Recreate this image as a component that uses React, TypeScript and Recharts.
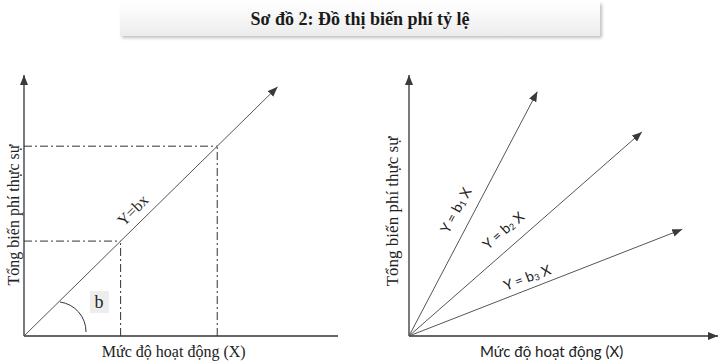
import React from "react";
import { LineChart, Line, XAxis, YAxis, ReferenceLine, ReferenceDot } from "recharts";

// ---- data ----
const TITLE = "Sơ đồ 2: Đồ thị biến phí tỷ lệ";
const Y_TITLE = "Tổng biến phí thực sự";
const X_TITLE = "Mức độ hoạt động (X)";

const X_MAX = 13;
const Y_MAX = 11;

// left chart: Y = bx (b = 1)
const leftLine = [
  { x: 0, y: 0 },
  { x: 10.5, y: 10.5 },
];
const guideLevels = [4, 8];
const leftXAxisLine = [
  { x: 0, y: 0 },
  { x: 13, y: 0 },
];
const yAxisLine = [
  { x: 0, y: 0 },
  { x: 0, y: 11 },
];
const leftLineLabel = "Y=bx";
const leftLineLabelPos = { x: 4.5, y: 5.3 };
const slopeLabel = "b";
const slopeLabelPos = { x: 3.1, y: 1.43 };
const leftXTitlePos = { x: 6.2, y: 0 };
const leftYTitlePos = { x: 0, y: 5.1 };

// right chart: Y = b1 X, Y = b2 X, Y = b3 X
const rightEndX = [5.4, 9.8, 11.5];
const rightEndY = [10.3, 8.6, 4.5];
const rightSubs = ["1", "2", "3"];
const rightLabelX = [1.94, 3.95, 4.96];
const rightLabelY = [5.31, 4.47, 2.49];
const rightXAxisLine = [
  { x: 0, y: 0 },
  { x: 13, y: 0 },
];
const rightXTitlePos = { x: 6.0, y: 0 };
const rightYTitlePos = { x: 0, y: 5.25 };

// ---- styles ----
const SERIF = "'Liberation Serif', 'Times New Roman', serif";
const SANS = "Lato, 'Open Sans', sans-serif";
const AXIS_COLOR = "#333";
const LINE_COLOR = "#555";
const labelAngles = [-62, -41.5, -21];

const Arrow = () => (
  <svg width={0} height={0} style={{ position: "absolute", left: 0, top: 0 }}>
    <defs>
      <marker
        id="arrowHead"
        viewBox="0 0 10 8"
        refX={10}
        refY={4}
        markerWidth={10}
        markerHeight={8}
        markerUnits="userSpaceOnUse"
        orient="auto"
      >
        <path d="M0,0 L10,4 L0,8 z" fill="#3a3a3a" />
      </marker>
    </defs>
  </svg>
);

const yTitleShape = (dx: number, size: number) => (p: any) => {
  const x = p.cx - dx;
  const y = p.cy;
  return (
    <text
      x={x}
      y={y}
      transform={`rotate(-90 ${x} ${y})`}
      textAnchor="middle"
      dominantBaseline="central"
      fontFamily={SERIF}
      fontSize={size}
      fill="#222"
    >
      {Y_TITLE}
    </text>
  );
};

const xTitleShape = (family: string, size: number) => (p: any) => (
  <text
    x={p.cx}
    y={p.cy + 15}
    textAnchor="middle"
    dominantBaseline="central"
    fontFamily={family}
    fontSize={size}
    fill="#222"
  >
    {X_TITLE}
  </text>
);

const LeftChart = () => (
  <LineChart
    width={360}
    height={362}
    margin={{ top: 75, right: 22, bottom: 26, left: 24 }}
  >
    <XAxis type="number" dataKey="x" domain={[0, X_MAX]} hide />
    <YAxis type="number" dataKey="y" domain={[0, Y_MAX]} hide />
    {guideLevels.map((v) => (
      <ReferenceLine
        key={"h" + v}
        segment={[
          { x: 0, y: v },
          { x: v, y: v },
        ]}
        stroke={AXIS_COLOR}
        strokeWidth={1}
        strokeDasharray="8 3 2 3"
      />
    ))}
    {guideLevels.map((v) => (
      <ReferenceLine
        key={"v" + v}
        segment={[
          { x: v, y: 0 },
          { x: v, y: v },
        ]}
        stroke={AXIS_COLOR}
        strokeWidth={1}
        strokeDasharray="8 3 2 3"
      />
    ))}
    <Line
      data={leftXAxisLine}
      dataKey="y"
      stroke={AXIS_COLOR}
      strokeWidth={1.3}
      dot={false}
      isAnimationActive={false}
    />
    <Line
      data={yAxisLine}
      dataKey="y"
      stroke={AXIS_COLOR}
      strokeWidth={1.3}
      dot={false}
      markerEnd="url(#arrowHead)"
      isAnimationActive={false}
    />
    <Line
      data={leftLine}
      dataKey="y"
      stroke={LINE_COLOR}
      strokeWidth={1}
      dot={false}
      markerEnd="url(#arrowHead)"
      isAnimationActive={false}
    />
    <ReferenceDot
      x={0}
      y={0}
      r={0}
      shape={(p: any) => (
        <path
          d={`M ${p.cx + 36} ${p.cy - 34} A 30 30 0 0 1 ${p.cx + 62} ${p.cy - 4}`}
          fill="none"
          stroke="#333"
          strokeWidth={1}
        />
      )}
    />
    <ReferenceDot
      x={slopeLabelPos.x}
      y={slopeLabelPos.y}
      r={0}
      shape={(p: any) => (
        <g>
          <rect x={p.cx - 9} y={p.cy - 11} width={19} height={22} fill="#ededed" />
          <text
            x={p.cx}
            y={p.cy}
            textAnchor="middle"
            dominantBaseline="central"
            fontFamily={SERIF}
            fontSize={18}
            fill="#222"
          >
            {slopeLabel}
          </text>
        </g>
      )}
    />
    <ReferenceDot
      x={leftLineLabelPos.x}
      y={leftLineLabelPos.y}
      r={0}
      shape={(p: any) => (
        <text
          x={p.cx}
          y={p.cy}
          transform={`rotate(-45 ${p.cx} ${p.cy})`}
          textAnchor="middle"
          dominantBaseline="central"
          fontFamily={SERIF}
          fontSize={16}
          fill="#222"
        >
          {leftLineLabel}
        </text>
      )}
    />
    <ReferenceDot
      x={leftXTitlePos.x}
      y={leftXTitlePos.y}
      r={0}
      shape={xTitleShape(SERIF, 16)}
    />
    <ReferenceDot
      x={leftYTitlePos.x}
      y={leftYTitlePos.y}
      r={0}
      shape={yTitleShape(10, 16)}
    />
  </LineChart>
);

const RightChart = () => (
  <LineChart
    width={360}
    height={362}
    margin={{ top: 75, right: 2, bottom: 26, left: 49 }}
  >
    <XAxis type="number" dataKey="x" domain={[0, X_MAX]} hide />
    <YAxis type="number" dataKey="y" domain={[0, Y_MAX]} hide />
    <Line
      data={rightXAxisLine}
      dataKey="y"
      stroke={AXIS_COLOR}
      strokeWidth={1.3}
      dot={false}
      markerEnd="url(#arrowHead)"
      isAnimationActive={false}
    />
    <Line
      data={yAxisLine}
      dataKey="y"
      stroke={AXIS_COLOR}
      strokeWidth={1.3}
      dot={false}
      markerEnd="url(#arrowHead)"
      isAnimationActive={false}
    />
    {rightEndX.map((ex, i) => (
      <Line
        key={"r" + i}
        data={[
          { x: 0, y: 0 },
          { x: ex, y: rightEndY[i] },
        ]}
        dataKey="y"
        stroke={LINE_COLOR}
        strokeWidth={1}
        dot={false}
        markerEnd="url(#arrowHead)"
        isAnimationActive={false}
      />
    ))}
    {rightSubs.map((s, i) => (
      <ReferenceDot
        key={"l" + i}
        x={rightLabelX[i]}
        y={rightLabelY[i]}
        r={0}
        shape={(p: any) => (
          <text
            x={p.cx}
            y={p.cy}
            transform={`rotate(${labelAngles[i]} ${p.cx} ${p.cy})`}
            textAnchor="middle"
            dominantBaseline="central"
            fontFamily={SANS}
            fontSize={14}
            fill="#222"
          >
            {"Y = b"}
            <tspan fontSize={9} dy={3}>
              {s}
            </tspan>
            <tspan dy={-3}>{" X"}</tspan>
          </text>
        )}
      />
    ))}
    <ReferenceDot
      x={rightXTitlePos.x}
      y={rightXTitlePos.y}
      r={0}
      shape={xTitleShape(SANS, 15)}
    />
    <ReferenceDot
      x={rightYTitlePos.x}
      y={rightYTitlePos.y}
      r={0}
      shape={yTitleShape(16, 17)}
    />
  </LineChart>
);

export default function App() {
  return (
    <div
      style={{
        position: "absolute",
        left: 0,
        top: 0,
        width: 720,
        height: 362,
        background: "#fff",
        overflow: "hidden",
      }}
    >
      <Arrow />
      <div
        style={{
          position: "absolute",
          left: 120,
          top: 2,
          width: 480,
          height: 34,
          background: "linear-gradient(#ffffff, #ececec)",
          boxShadow: "2px 2px 3px rgba(0,0,0,0.25)",
          textAlign: "center",
          lineHeight: "34px",
          fontFamily: SERIF,
          fontWeight: "bold",
          fontSize: 18,
          color: "#1a1a1a",
        }}
      >
        {TITLE}
      </div>
      <div style={{ position: "absolute", left: 0, top: 0 }}>
        <LeftChart />
      </div>
      <div style={{ position: "absolute", left: 360, top: 0 }}>
        <RightChart />
      </div>
    </div>
  );
}
